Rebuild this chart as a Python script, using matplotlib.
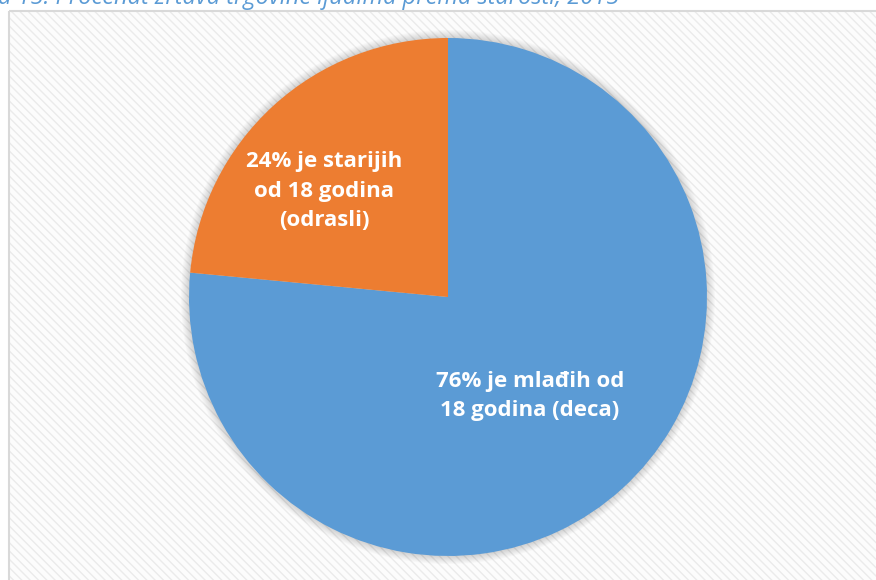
import matplotlib
matplotlib.use("Agg")
import matplotlib.pyplot as plt
from matplotlib.patches import Rectangle, Circle

labels = ["76% je mlađih od\n18 godina (deca)", "24% je starijih\nod 18 godina\n(odrasli)"]
values = [76.5, 23.5]
colors = ["#5B9BD5", "#ED7D31"]
caption = "a 15: Procenat žrtava trgovine ljudima prema starosti, 2015"

W, H = 876, 580
fig = plt.figure(figsize=(W / 100, H / 100), dpi=100)
fig.patch.set_facecolor("white")

# background frame with hatch
bg = fig.add_axes([0, 0, 1, 1])
bg.set_xlim(0, W)
bg.set_ylim(H, 0)
bg.axis("off")
bg.add_patch(Rectangle((8.5, 10.5), W, H, facecolor="#FCFCFC", edgecolor="#EBEBEB",
                       hatch="\\\\\\\\", linewidth=0))
bg.add_patch(Rectangle((8.5, 10.5), W, H, facecolor="none", edgecolor="#D9D9D9",
                       linewidth=1.5))
bg.text(-2, 4.5, caption, fontsize=17, style="italic", color="#5B9BD5",
        family="Open Sans", va="baseline", ha="left")

# pie
cx, cy, r = 448, 297, 259
# soft shadow around pie
for k in range(8, 0, -1):
    bg.add_patch(Circle((cx, cy), r + k, facecolor="#000000", alpha=0.018,
                        edgecolor="none"))

ax = fig.add_axes([(cx - r) / W, 1 - (cy + r) / H, 2 * r / W, 2 * r / H])
ax.patch.set_alpha(0)
wedges, _ = ax.pie(values, colors=colors, startangle=90, counterclock=False,
                   wedgeprops=dict(linewidth=0))
ax.set_xlim(-1, 1)
ax.set_ylim(-1, 1)
ax.set_aspect("auto")

def to_ax(px, py):
    return ((px - cx) / r, (cy - py) / r)

x, y = to_ax(530, 396)
ax.text(x, y, labels[0], ha="center", va="center", color="white", fontsize=16,
        fontweight="bold", family="Open Sans", linespacing=1.5)
x, y = to_ax(324, 191)
ax.text(x, y, labels[1], ha="center", va="center", color="white", fontsize=16,
        fontweight="bold", family="Open Sans", linespacing=1.5)

fig.savefig("out.png", dpi=100)
